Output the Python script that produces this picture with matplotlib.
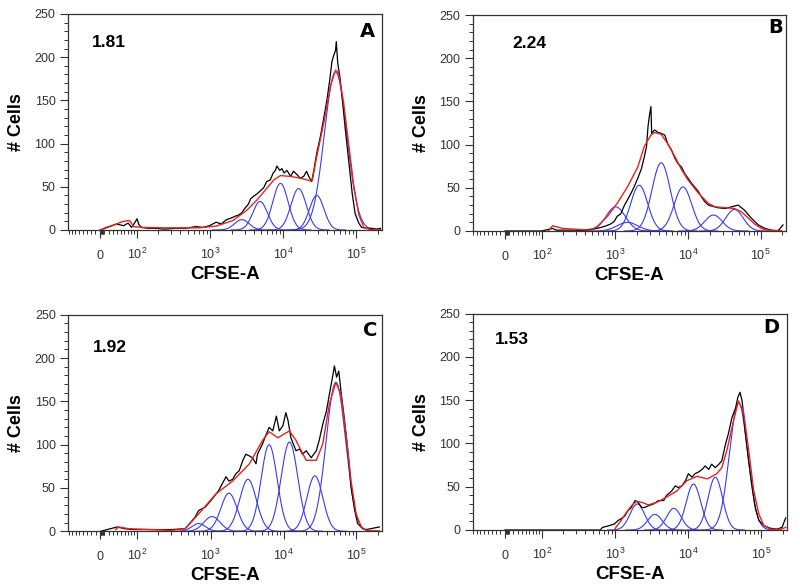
import numpy as np
import matplotlib
matplotlib.use("Agg")
import matplotlib.pyplot as plt
from matplotlib.ticker import FixedLocator, FixedFormatter, MultipleLocator

plt.rcParams['font.family'] = ['Liberation Sans', 'DejaVu Sans']
plt.rcParams['mathtext.default'] = 'regular'

# ---------------- data (x stored as log10 of CFSE intensity) ----------------
# panel A
a_black_lx = [0.0, 1.36, 1.59, 1.76, 1.85, 1.91, 1.96, 2.00, 2.03, 2.07, 2.16, 2.26, 2.39, 2.53, 2.67, 2.81, 2.90, 2.99,
              3.08, 3.15, 3.22, 3.29, 3.34, 3.38, 3.43, 3.47, 3.52, 3.55, 3.59, 3.64, 3.68, 3.73, 3.77, 3.82, 3.86, 3.89,
              3.91, 3.95, 3.98, 4.01, 4.05, 4.10, 4.14, 4.19, 4.23, 4.28, 4.32, 4.35, 4.39, 4.42, 4.46, 4.51, 4.56, 4.60,
              4.64, 4.67, 4.69, 4.72, 4.73, 4.75, 4.78, 4.81, 4.85, 4.90, 4.95, 4.99, 5.04, 5.08, 5.15, 5.22, 5.29, 5.34]
a_black_n = [0, 4, 7, 5, 8, 3, 8, 13, 6, 3, 2, 2, 1, 2, 2, 4, 3, 5,
             9, 7, 12, 14, 16, 17, 20, 25, 30, 36, 39, 42, 45, 49, 56, 58, 66, 69,
             74, 69, 71, 66, 69, 62, 68, 64, 60, 62, 68, 62, 56, 69, 89, 108, 131, 150,
             174, 195, 201, 208, 218, 193, 177, 154, 120, 81, 42, 19, 8, 3, 2, 2, 1, 2]
a_red_lx = [0.0, 1.15, 1.54, 1.72, 1.86, 1.89, 1.94, 2.07, 2.39, 2.85, 3.08, 3.31, 3.50, 3.64, 3.77, 3.87, 3.96,
            4.10, 4.23, 4.37, 4.40, 4.46, 4.56, 4.65, 4.72, 4.76, 4.83, 4.90, 4.97, 5.04, 5.11, 5.20, 5.34]
a_red_n = [0, 3, 6, 9.5, 11, 10, 4, 3, 2.5, 2.5, 4.5, 11, 23, 35, 48, 58, 63,
           62, 60, 57, 58, 85, 125, 167, 185, 182, 148, 100, 52, 18, 3, 0.5, 0.3]
a_peak_lx = [3.43, 3.68, 3.96, 4.21, 4.46, 4.72]
a_peak_n = [12, 33, 54, 48, 40, 183]
a_peak_sd = [0.10, 0.10, 0.105, 0.105, 0.10, 0.155]

# panel B
b_black_lx = [0.0, 2.00, 2.16, 2.21, 2.30, 2.48, 2.58, 2.67, 2.76, 2.85, 2.94, 2.99, 3.03, 3.08, 3.13, 3.17, 3.22,
              3.26, 3.31, 3.36, 3.40, 3.43, 3.45, 3.47, 3.49, 3.50, 3.54, 3.59, 3.63, 3.68, 3.72, 3.77, 3.82, 3.86,
              3.91, 3.95, 4.00, 4.05, 4.09, 4.14, 4.18, 4.23, 4.28, 4.32, 4.41, 4.51, 4.60, 4.69, 4.78, 4.87, 4.97,
              5.06, 5.15, 5.24, 5.31]
b_black_n = [0, 0, 3, 1, 1, 1, 1, 2, 3, 5, 8, 11, 17, 20, 30, 36, 44,
             51, 61, 72, 86, 98, 121, 134, 144, 113, 117, 114, 113, 111, 101, 94, 84, 78,
             74, 67, 61, 55, 51, 46, 40, 34, 30, 29, 27, 26, 28, 30, 24, 15, 7,
             3, 1, 0, 7]
b_red_lx = [2.10, 2.16, 2.21, 2.30, 2.48, 2.67, 2.76, 2.90, 3.03, 3.17, 3.31, 3.40, 3.49, 3.54, 3.63, 3.72, 3.82,
            3.91, 4.00, 4.14, 4.28, 4.37, 4.51, 4.64, 4.74, 4.83, 4.92, 5.01, 5.10, 5.29]
b_red_n = [0, 6, 5, 3, 2, 1, 5, 17, 32, 51, 74, 98, 111, 114, 112, 101, 86,
           71, 59, 44, 32, 28, 27, 26, 22, 15, 8, 3, 1, 0.4]
b_peak_lx = [3.01, 3.17, 3.33, 3.63, 3.93, 4.35, 4.64]
b_peak_n = [28, 10, 53, 79, 51, 18.5, 25]
b_peak_sd = [0.13, 0.14, 0.115, 0.125, 0.12, 0.12, 0.12]

# panel C
c_black_lx = [0.0, 1.60, 1.78, 1.92, 2.20, 2.47, 2.66, 2.72, 2.79, 2.84, 2.93, 3.02, 3.11, 3.21, 3.25, 3.30, 3.34,
              3.39, 3.44, 3.48, 3.53, 3.57, 3.62, 3.64, 3.71, 3.76, 3.80, 3.85, 3.90, 3.94, 3.99, 4.03, 4.06, 4.10,
              4.17, 4.22, 4.26, 4.31, 4.38, 4.45, 4.49, 4.54, 4.59, 4.63, 4.68, 4.70, 4.73, 4.76, 4.79, 4.84, 4.89,
              4.93, 4.98, 5.02, 5.09, 5.14, 5.32]
c_black_n = [0, 5, 3, 2, 2, 2, 3, 9, 16, 24, 28, 37, 47, 63, 58, 60, 66,
             70, 82, 89, 87, 85, 78, 89, 101, 112, 120, 116, 133, 116, 122, 137, 128, 108,
             93, 95, 89, 93, 85, 93, 105, 124, 139, 158, 181, 191, 178, 185, 162, 128, 89,
             51, 24, 9, 3, 2, 5]
c_red_lx = [1.55, 1.65, 1.85, 2.20, 2.47, 2.66, 2.84, 3.07, 3.30, 3.53, 3.71, 3.80, 3.92, 4.08, 4.17, 4.31, 4.45,
            4.54, 4.63, 4.72, 4.79, 4.86, 4.93, 5.00, 5.07, 5.14, 5.32]
c_red_n = [2, 5, 3, 2, 1, 3, 20, 43, 58, 78, 105, 115, 108, 116, 105, 82, 82,
           101, 147, 172, 158, 112, 58, 20, 5, 1, 0.5]
c_peak_lx = [2.84, 3.02, 3.25, 3.51, 3.80, 4.08, 4.43, 4.72]
c_peak_n = [9, 17, 44, 60, 100, 103, 64, 172]
c_peak_sd = [0.09, 0.11, 0.11, 0.115, 0.11, 0.115, 0.11, 0.135]

# panel D
d_black_lx = [0.0, 2.80, 2.83, 2.92, 2.99, 3.04, 3.08, 3.13, 3.17, 3.22, 3.27, 3.31, 3.36, 3.40, 3.45, 3.52, 3.59,
              3.66, 3.70, 3.77, 3.82, 3.86, 3.91, 3.96, 4.00, 4.05, 4.09, 4.14, 4.19, 4.23, 4.28, 4.32, 4.37, 4.42,
              4.46, 4.51, 4.55, 4.60, 4.65, 4.68, 4.71, 4.74, 4.78, 4.83, 4.88, 4.92, 4.97, 5.04, 5.13, 5.22, 5.29,
              5.34]
d_black_n = [0, 0, 3, 5, 7, 11, 13, 16, 22, 26, 34, 32, 26, 26, 28, 30, 34,
             34, 40, 45, 51, 49, 51, 57, 65, 61, 65, 67, 70, 74, 70, 76, 72, 76,
             80, 99, 111, 130, 141, 153, 159, 149, 115, 80, 49, 26, 11, 5, 2, 1, 3,
             14]
d_red_lx = [2.99, 3.01, 3.08, 3.15, 3.22, 3.29, 3.36, 3.45, 3.57, 3.70, 3.84, 3.98, 4.12, 4.26, 4.39, 4.46, 4.53,
            4.62, 4.69, 4.76, 4.83, 4.90, 4.97, 5.04, 5.13, 5.27, 5.34]
d_red_n = [0, 3, 11, 20, 28, 33, 32, 29, 32, 38, 45, 57, 62, 59, 65, 72, 92,
           126, 149, 136, 92, 45, 18.5, 5, 1, 0.8, 3]
d_peak_lx = [3.30, 3.54, 3.80, 4.07, 4.37, 4.69]
d_peak_n = [30, 18, 25, 53, 61, 147]
d_peak_sd = [0.10, 0.10, 0.10, 0.10, 0.10, 0.125]

labels = ['A', 'B', 'C', 'D']
indices = ['1.81', '2.24', '1.92', '1.53']

# ---------------- logicle (biexponential) axis ----------------
T, M, W = 2.26e5, 4.33, 0.44
pg = np.linspace(1.001, 5, 40000)
P = pg[np.argmin(np.abs(2 * pg * np.log(pg) / (pg + 1) - W))]


def to_data(d):
    d = np.asarray(d, dtype=float)
    r = d - W
    s = np.where(r < 0, -1.0, 1.0)
    r = np.abs(r)
    return s * T * 10 ** (W - M) * (10 ** r - P ** 2 * 10 ** (-r / P) + P ** 2 - 1)


_dg = np.linspace(-2, M + 2, 40001)
_xg = to_data(_dg)


def to_disp(x):
    return np.interp(np.asarray(x, dtype=float), _xg, _dg)


major = [0, 1e2, 1e3, 1e4, 1e5]
major_lbl = ['', '$10^2$', '$10^3$', '$10^4$', '$10^5$']
minor = [-k * 10 for k in range(1, 9)]
for dec in [1, 10, 100, 1000, 10000]:
    minor += [k * dec for k in range(2 if dec > 1 else 1, 10)]
minor += [2e5]

fig = plt.figure(figsize=(8, 5.88), dpi=100)
rects = [[68 / 800, 1 - 230 / 588, 313.5 / 800, 216 / 588],
         [472.7 / 800, 1 - 231 / 588, 313.5 / 800, 216 / 588],
         [68.3 / 800, 1 - 531.3 / 588, 313.5 / 800, 216.5 / 588],
         [472.7 / 800, 1 - 530 / 588, 314 / 800, 216.5 / 588]]
idx_pos = [(0.077, 0.866), (0.125, 0.87), (0.079, 0.851), (0.071, 0.881)]
let_pos = [(0.954, 0.917), (0.966, 0.94), (0.963, 0.926), (0.952, 0.937)]

series = [(a_black_lx, a_black_n, a_red_lx, a_red_n, a_peak_lx, a_peak_n, a_peak_sd),
          (b_black_lx, b_black_n, b_red_lx, b_red_n, b_peak_lx, b_peak_n, b_peak_sd),
          (c_black_lx, c_black_n, c_red_lx, c_red_n, c_peak_lx, c_peak_n, c_peak_sd),
          (d_black_lx, d_black_n, d_red_lx, d_red_n, d_peak_lx, d_peak_n, d_peak_sd)]

for i in range(4):
    blx, bn, rlx, rn, plx, pn, psd = series[i]
    ax = fig.add_axes(rects[i])
    ax.set_xscale('function', functions=(to_disp, to_data))

    # generation peaks (blue)
    for mu, h, sd in zip(plx, pn, psd):
        g = np.linspace(mu - 4 * sd, mu + 4 * sd, 200)
        ax.plot(10 ** g, h * np.exp(-0.5 * ((g - mu) / sd) ** 2), color='#3a3af0', lw=0.8)
    ax.plot(10 ** np.array(blx), bn, color='black', lw=0.9)
    ax.plot(10 ** np.array(rlx), rn, color='#e8231e', lw=1.0)

    ax.set_xlim(float(to_data(0)), float(to_data(M)))
    ax.set_ylim(0, 250)
    ax.xaxis.set_major_locator(FixedLocator(major))
    ax.xaxis.set_major_formatter(FixedFormatter(major_lbl))
    ax.xaxis.set_minor_locator(FixedLocator(minor))
    ax.yaxis.set_major_locator(MultipleLocator(50))
    ax.yaxis.set_minor_locator(MultipleLocator(10))
    ax.tick_params(which='major', direction='out', length=6, width=0.8, color='#333333',
                   labelsize=9, labelcolor='#333333')
    ax.tick_params(which='minor', direction='out', length=3, width=0.7, color='#333333')
    ax.tick_params(axis='x', which='major', pad=14.8)
    ax.tick_params(axis='y', which='major', pad=3)
    plt.setp(ax.get_xticklabels(), va='baseline')
    # zero label drawn separately so it sits on the same baseline as "10"
    ax.text(0, -0.134, '0', transform=ax.get_xaxis_transform(), ha='center', va='baseline',
            fontsize=9, color='#333333')
    for sp in ax.spines.values():
        sp.set_color('#333333')
        sp.set_linewidth(0.9)

    ax.set_xlabel('CFSE-A', fontsize=13.5, fontweight='bold')
    ax.xaxis.set_label_coords(0.5, -0.165)
    ax.set_ylabel('# Cells', fontsize=13, fontweight='bold')
    ax.yaxis.set_label_coords(-0.137, 0.5)

    ax.text(idx_pos[i][0], idx_pos[i][1], indices[i], transform=ax.transAxes, fontsize=12.5,
            fontweight='bold', ha='left', va='center')
    ax.text(let_pos[i][0], let_pos[i][1], labels[i], transform=ax.transAxes, fontsize=14,
            fontweight='bold', ha='center', va='center', family=['DejaVu Sans'])

fig.savefig('out.png', dpi=100)
